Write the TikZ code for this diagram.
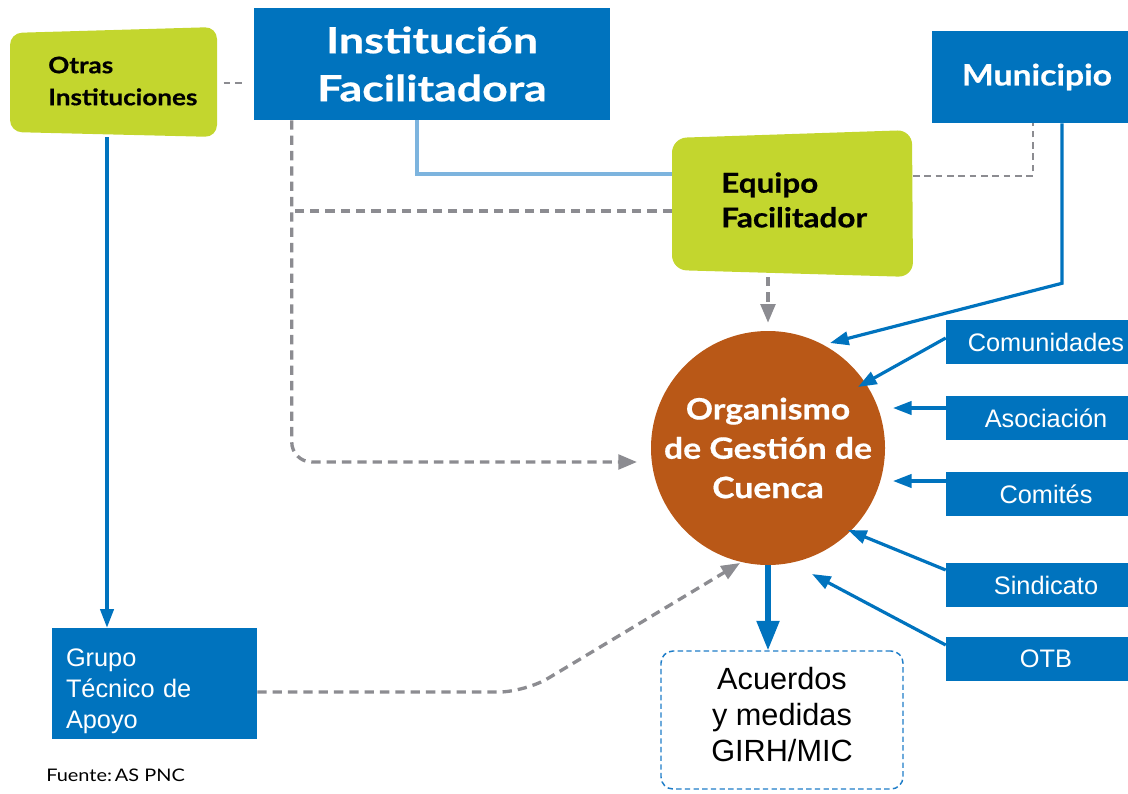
\documentclass[tikz,border=0pt]{standalone}
\usepackage{fontspec}
\setmainfont{Liberation Sans}
\newfontfamily\gill[FakeStretch=1.15, BoldFeatures={FakeBold=0.6}]{Lato}
\newfontfamily\gillwide[FakeStretch=1.24, BoldFeatures={FakeBold=0.6}]{Lato}
\usetikzlibrary{arrows.meta}
\definecolor{boxblue}{RGB}{0,115,190}
\definecolor{limegreen}{RGB}{195,214,46}
\definecolor{cuenca}{RGB}{185,88,23}
\definecolor{linegray}{RGB}{140,140,145}
\definecolor{lightblue}{RGB}{125,180,222}
\definecolor{dashblue}{RGB}{30,125,200}
\begin{document}
\begin{tikzpicture}[x=0.75pt, y=-0.75pt, >={Triangle[length=14pt,width=10pt]},
  bluebox/.style={fill=boxblue, text=white, inner sep=0pt},
  blueline/.style={draw=boxblue, line width=2.4pt},
  lightline/.style={draw=lightblue, line width=2.4pt},
  graydash/.style={draw=linegray, line width=2.5pt, dash pattern=on 7pt off 4.5pt},
  graythin/.style={draw=linegray, line width=1.8pt, dash pattern=on 5pt off 3.5pt},
  grayarrow/.style={-{Triangle[length=14pt,width=11pt]}, linegray}]
\useasboundingbox (0,0) rectangle (1128,793);
\fill[limegreen, rounded corners=9pt] (10,33) -- (217,27) -- (217,137) -- (10,132) -- cycle;
\fill[limegreen, rounded corners=11pt] (672,138) -- (912,130) -- (913,277) -- (672,270) -- cycle;
\node[bluebox, minimum width=267pt, minimum height=84pt, align=center, font=\gillwide\bfseries\fontsize{27}{36}\selectfont] (inst) at (432,64) {Institución\\Facilitadora};
\node[bluebox, minimum width=157.5pt, minimum height=69pt, font=\gill\bfseries\fontsize{22}{26}\selectfont] (muni) at (1037,77) {Municipio};
\node[anchor=west, align=left, inner sep=0pt, font=\gill\bfseries\fontsize{17}{24}\selectfont] (otras) at (48,81) {Otras\\Instituciones};
\node[anchor=west, align=left, inner sep=0pt, font=\gill\bfseries\fontsize{20.5}{26}\selectfont] (equipo) at (721,200) {Equipo\\Facilitador};
\node[circle, fill=cuenca, text=white, minimum size=175.5pt, inner sep=0pt, align=center, font=\gill\bfseries\fontsize{22}{29.5}\selectfont] (org) at (768,448) {Organismo\\de Gestión de\\Cuenca};
\foreach \n/\y/\t in {comu/342/Comunidades, asoc/418/Asociación, comi/494/Comités, sind/585/Sindicato, otb/659/OTB}
  \node[bluebox, minimum width=150pt, minimum height=33pt, font=\fontsize{19}{22}\selectfont] (\n) at (1046,\y) {\t};
\node[bluebox, minimum width=153.75pt, minimum height=83.25pt, text width=132.75pt, inner xsep=10.5pt, align=left, font=\fontsize{19}{23.25}\selectfont] (grupo) at (154.5,683.5) {\rule{0pt}{25pt}Grupo\\Técnico de\\Apoyo};
\node[draw=dashblue, dash pattern=on 4pt off 2.5pt, line width=1.1pt, rounded corners=9pt, minimum width=181.5pt, minimum height=103.5pt, align=center, font=\fontsize{23}{27}\selectfont] (acu) at (782,720) {Acuerdos\\y medidas\\GIRH/MIC\rule[-9pt]{0pt}{9pt}};
\node[anchor=west, inner sep=0pt, font=\gill\fontsize{13}{15}\selectfont] (fuente) at (46,775) {Fuente:\,AS PNC};
\coordinate (otrasS) at (107,137);
\coordinate (instL) at ([xshift=28.5pt]inst.south west);
\coordinate (eqT) at (672,174);
\coordinate (eqL) at (672,211);
\coordinate (eqR) at (913,176);
\coordinate (eqS) at (768,277);
\draw[graythin, shorten <=19.5pt, shorten >=6pt] ([yshift=-1.5pt]otras.east) -- ([yshift=-1.5pt]otras.east -| inst.west);
\draw[blueline, ->] (otrasS) -- (otrasS |- grupo.north);
\draw[lightline] ([xshift=-11.25pt]inst.south) |- (eqT);
\draw[graydash] (eqL) -- (eqL -| instL);
\draw[graydash, grayarrow, rounded corners=15pt] (instL) |- ([shift={(-131,14)}]org.center);
\draw[graythin] (eqR) -| ([xshift=-3pt]muni.south);
\draw[graydash, grayarrow] (eqS) -- ([yshift=6pt]org.north);
\draw[blueline, ->] ([xshift=18.75pt]muni.south) -- ++(0,160) -- ([shift={(62,-105)}]org.center);
\foreach \n/\dy/\dx/\ty in {comu/3/90/-61, asoc/7.5/125/-40, comi/9.75/125/33, sind/11.25/80/82, otb/10.5/44/126}
  \draw[blueline, ->] ([yshift=\dy pt]\n.west) -- ([shift={(\dx,\ty)}]org.center);
\draw[boxblue, line width=3.8pt, -{Triangle[length=22pt,width=16.5pt]}] (org.south) -- (org.south |- acu.north);
\draw[graydash, grayarrow, rounded corners=20pt] ([yshift=-6.4pt]grupo.east) -- ++(268,0) -- ([shift={(-28,115)}]org.center);
\end{tikzpicture}
\end{document}
